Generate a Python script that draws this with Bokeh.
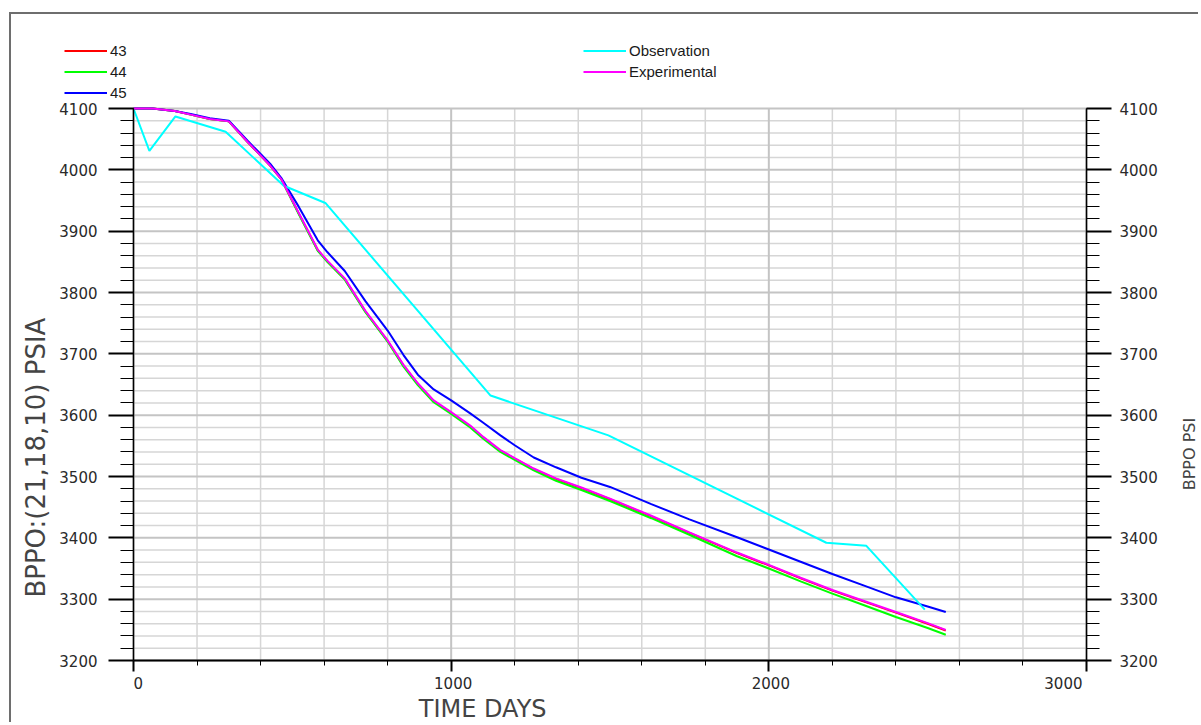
import math
import numpy as np
from bokeh.plotting import figure
from bokeh.models import (Range1d, LinearAxis, SingleIntervalTicker, Legend, LegendItem, Label,
                          ColumnDataSource)
from bokeh.core.properties import value
from bokeh.embed import file_html
from bokeh.resources import INLINE

# ---------------- data ----------------
days_sim = [0, 60, 130, 180, 240, 300, 360, 430, 465, 520, 580, 610, 665, 730, 800, 850,
            895, 945, 1000, 1060, 1100, 1155, 1200, 1260, 1330, 1410, 1500, 1630, 1750,
            1900, 2000, 2100, 2200, 2300, 2400, 2500, 2557]
experimental = [4100, 4100, 4096, 4090, 4083, 4079, 4045, 4007, 3985, 3930, 3870, 3852, 3823,
                3770, 3722, 3682, 3652, 3624, 3605, 3583, 3565, 3543, 3530, 3513, 3497, 3482,
                3464, 3436, 3409, 3376, 3356, 3335, 3315, 3297, 3279, 3261, 3250]
run43 = [4100, 4100, 4096, 4090, 4083, 4079, 4045, 4007, 3985, 3929, 3869, 3851, 3822,
         3769, 3721, 3681, 3651, 3623, 3604, 3582, 3564, 3542, 3529, 3512, 3496, 3481,
         3463, 3435, 3408, 3375, 3355, 3334, 3314, 3296, 3278, 3260, 3249]
run44 = [4100, 4100, 4096, 4090, 4083, 4079, 4045, 4007, 3985, 3928, 3868, 3850, 3821,
         3768, 3720, 3679, 3649, 3621, 3602, 3580, 3562, 3540, 3527, 3510, 3493, 3478,
         3460, 3432, 3405, 3370, 3350, 3329, 3309, 3290, 3271, 3253, 3242]
run45 = [4100, 4100, 4096, 4091, 4084, 4080, 4047, 4010, 3987, 3940, 3885, 3866, 3835,
         3786, 3738, 3698, 3666, 3642, 3624, 3603, 3588, 3567, 3551, 3531, 3515, 3498,
         3483, 3455, 3430, 3401, 3381, 3361, 3341, 3322, 3303, 3288, 3279]
obs_days = [0, 50, 132, 290, 473, 604, 1124, 1495, 2181, 2307, 2491]
observation = [4100, 4031, 4087, 4062, 3974, 3946, 3632, 3567, 3392, 3387, 3283]

series_labels = ["43", "44", "45", "Observation", "Experimental"]
x_tick_values = [0, 1000, 2000, 3000]
x_tick_labels = ["0", "1000", "2000", "3000"]
x_label = "TIME  DAYS"
y_label = "BPPO:(21,18,10)  PSIA"
y2_label = "BPPO  PSI"

x_min, x_max, x_major, x_minor = 0, 3000, 1000, 200
y_min, y_max, y_major, y_minor = 3200, 4100, 100, 20

# ---------------- layout (page pixels) ----------------
W, H = 1189, 710
CANVAS_L, CANVAS_T = 11, 14          # canvas origin on the page (margin + border)
PL, PR, PT, PB = 133, 1086, 108, 660  # plot area edges on the page
kx = (PR - PL) / (x_max - x_min)
ky = (PB - PT) / (y_max - y_min)

def dx(px):
    return x_min + (px - PL) / kx

def dy(py):
    return y_max - (py - PT) / ky

p = figure(width=W, height=H,
           x_range=Range1d(dx(CANVAS_L), dx(CANVAS_L + W)),
           y_range=Range1d(dy(CANVAS_T + H), dy(CANVAS_T)),
           output_backend="svg", toolbar_location=None, min_border=0)
p.margin = (12, 0, 0, 9)
p.styles = {"border-left": "2px solid #6e6e6e", "border-top": "2px solid #6e6e6e"}
p.background_fill_color = "white"
p.border_fill_color = "white"
p.outline_line_color = None
p.grid.visible = False

xt = SingleIntervalTicker(interval=x_major, num_minor_ticks=x_major // x_minor)
yt = SingleIntervalTicker(interval=y_major, num_minor_ticks=y_major // y_minor)
tick_font = "DejaVu Sans"
tick_color = "#2a2a2a"

xa = p.xaxis[0]
xa.ticker = xt
xa.fixed_location = y_min
xa.bounds = (x_min, x_max)
xa.axis_line_color = "black"
xa.axis_line_width = 2
xa.major_tick_line_color = "black"
xa.major_tick_line_width = 2
xa.major_tick_out = 11
xa.major_tick_in = 0
xa.minor_tick_line_color = "black"
xa.minor_tick_line_width = 1
xa.minor_tick_out = 5
xa.minor_tick_in = 0
xa.major_label_overrides = {v: "" for v in x_tick_values}

def style_y(ax, standoff, loc):
    ax.ticker = yt
    ax.fixed_location = loc
    ax.bounds = (y_min, y_max)
    ax.axis_line_color = "black"
    ax.axis_line_width = 1.5
    ax.major_tick_line_color = "black"
    ax.major_tick_line_width = 2
    ax.major_tick_out = 25
    ax.major_tick_in = 0
    ax.minor_tick_line_color = "black"
    ax.minor_tick_line_width = 1
    ax.minor_tick_out = 13
    ax.minor_tick_in = 0
    ax.major_label_standoff = standoff
    ax.major_label_text_font = tick_font
    ax.major_label_text_font_size = "15px"
    ax.major_label_text_color = tick_color

style_y(p.yaxis[0], 11, x_min)
ra = LinearAxis()
style_y(ra, 8, x_max)
p.add_layout(ra, "right")

# ---------------- grid (restricted to plot area) ----------------
gx_minor = [v for v in np.arange(x_min, x_max + 1, x_minor) if v % x_major != 0]
gx_major = list(np.arange(x_min, x_max + 1, x_major))
gy_minor = [v for v in np.arange(y_min, y_max + 1, y_minor) if v % y_major != 0]
gy_major = list(np.arange(y_min, y_max + 1, y_major))

p.segment(x0=gx_minor, x1=gx_minor, y0=y_min, y1=y_max, line_color="#d6d6d6", line_width=1.5)
p.segment(x0=x_min, x1=x_max, y0=gy_minor, y1=gy_minor, line_color="#d6d6d6", line_width=1.5)
p.segment(x0=gx_major, x1=gx_major, y0=y_min, y1=y_max, line_color="#c4c4c4", line_width=2)
p.segment(x0=x_min, x1=x_max, y0=gy_major, y1=gy_major, line_color="#c4c4c4", line_width=2)

# x tick labels (first label starts at its tick, last ends at its tick)
xl_src = ColumnDataSource(dict(
    x=x_tick_values, text=x_tick_labels,
    align=["left"] + ["center"] * (len(x_tick_values) - 2) + ["right"],
    xoff=[0] + [2] * (len(x_tick_values) - 2) + [-4]))
p.text(x="x", y=y_min, text="text", source=xl_src, text_align="align", x_offset="xoff",
       y_offset=22, text_baseline="middle", text_font=value(tick_font),
       text_font_size="15px", text_color=tick_color)

# ---------------- series ----------------
lw = 2
r43 = p.line(days_sim, run43, line_color="#ff0000", line_width=lw)
r44 = p.line(days_sim, run44, line_color="#00ff00", line_width=lw)
r45 = p.line(days_sim, run45, line_color="#0000ff", line_width=lw)
robs = p.line(obs_days, observation, line_color="#00ffff", line_width=lw)
rexp = p.line(days_sim, experimental, line_color="#ff00ff", line_width=lw)

ROW = 21

def make_legend(items, left_px, top_px):
    n = len(items)
    loc = (left_px - CANVAS_L, (CANVAS_T + H) - (top_px + n * ROW))
    leg = Legend(items=items, location=loc, orientation="vertical")
    leg.border_line_color = None
    leg.background_fill_alpha = 0
    leg.padding = 0
    leg.margin = 0
    leg.spacing = 0
    leg.glyph_width = 43
    leg.glyph_height = ROW
    leg.label_height = ROW
    leg.label_standoff = 3
    leg.label_text_font = "Liberation Sans"
    leg.label_text_font_size = "15px"
    leg.label_text_color = "#1a1a1a"
    return leg

p.add_layout(make_legend([LegendItem(label=series_labels[0], renderers=[r43]),
                          LegendItem(label=series_labels[1], renderers=[r44]),
                          LegendItem(label=series_labels[2], renderers=[r45])], 64, 40))
p.add_layout(make_legend([LegendItem(label=series_labels[3], renderers=[robs]),
                          LegendItem(label=series_labels[4], renderers=[rexp])], 583, 40))

# ---------------- axis titles ----------------
p.add_layout(Label(x=dx(35), y=dy(453), text=y_label, angle=math.pi / 2,
                   text_align="center", text_baseline="middle", text_font=tick_font,
                   text_font_size="26px", text_color="#444444"))
p.add_layout(Label(x=dx(486), y=dy(708), text=x_label, text_align="center",
                   text_baseline="middle", text_font=tick_font,
                   text_font_size="24px", text_color="#444444"))
p.add_layout(Label(x=dx(1189), y=dy(451), text=y2_label, angle=math.pi / 2,
                   text_align="center", text_baseline="middle", text_font=tick_font,
                   text_font_size="16px", text_color="#444444"))

open("out.html", "w").write(file_html(p, INLINE))
